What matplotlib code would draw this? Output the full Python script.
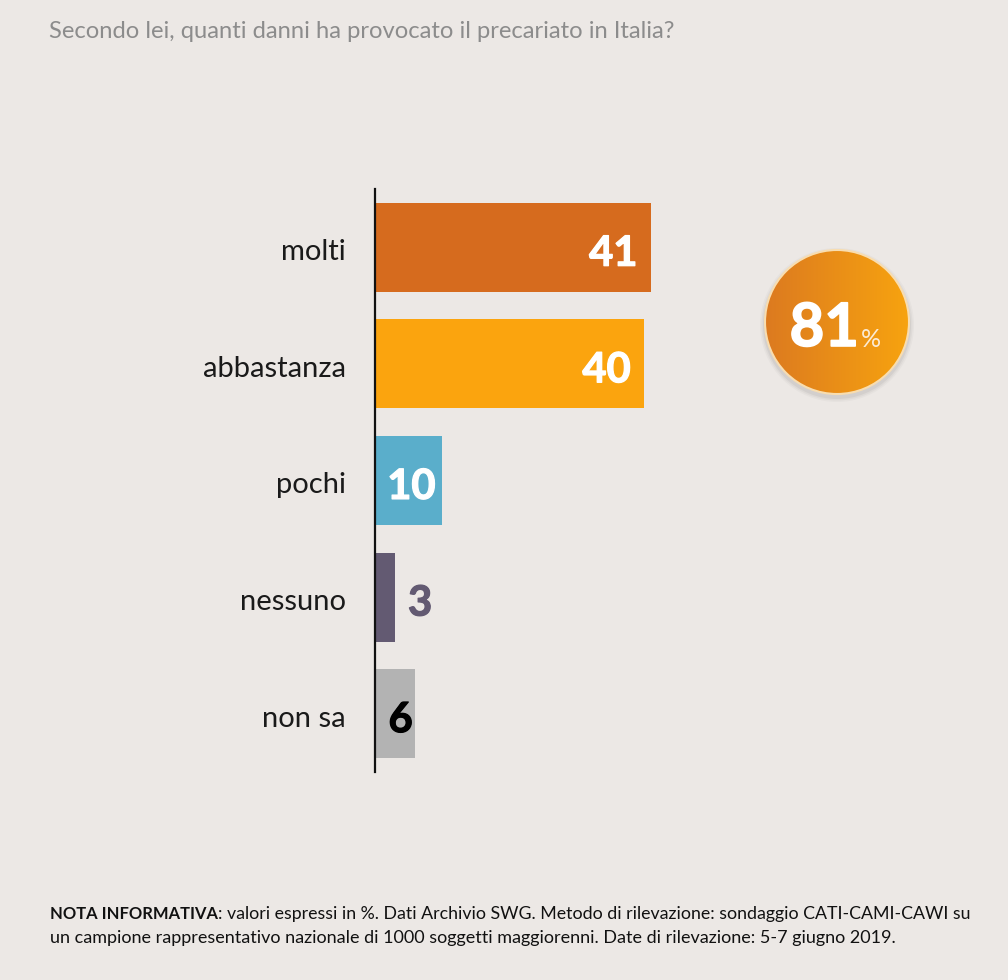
import numpy as np
from matplotlib import pyplot as plt
from matplotlib import patheffects
from matplotlib.colors import LinearSegmentedColormap
from matplotlib.patches import Circle
from matplotlib.transforms import ScaledTranslation

categories = ['molti', 'abbastanza', 'pochi', 'nessuno', 'non sa']
values = [41, 40, 10, 3, 6]
bar_colors = ['#D66B1E', '#FBA40E', '#5AAECB', '#635A72', '#B3B3B3']
value_colors = ['white', 'white', 'white', '#635A72', 'black']
title = 'Secondo lei, quanti danni ha provocato il precariato in Italia?'
note_bold = 'NOTA INFORMATIVA'
note_line1 = ': valori espressi in %. Dati Archivio SWG. Metodo di rilevazione: sondaggio CATI-CAMI-CAWI su'
note_line2 = 'un campione rappresentativo nazionale di 1000 soggetti maggiorenni. Date di rilevazione: 5-7 giugno 2019.'

W, H = 1008, 980
BG = '#ECE8E5'
plt.rcParams['font.family'] = ['Lato', 'DejaVu Sans']

fig = plt.figure(figsize=(W / 100, H / 100), dpi=100, facecolor=BG)

# page layer in pixel coordinates, for the texts and the badge
page = fig.add_axes([0, 0, 1, 1])
page.set_xlim(0, W)
page.set_ylim(H, 0)
page.axis('off')

# bars, 6.73 px per percentage point
ax_left, ax_top, ax_bottom = 375, 189, 772
ax_width = 6.73 * 60
ax = fig.add_axes([ax_left / W, 1 - ax_bottom / H, ax_width / W, (ax_bottom - ax_top) / H])
ax.patch.set_alpha(0)
y = np.arange(len(categories))
ax.barh(y, values, height=0.764, color=bar_colors)
ax.set_xlim(0, 60)
ax.set_ylim(4.5, -0.5)
ax.set_yticks(y, categories, fontsize=21, color='#1a1a1a')
ax.tick_params(axis='y', length=0, pad=21)
ax.set_xticks([])
for side in ['top', 'right', 'bottom']:
    ax.spines[side].set_visible(False)
ax.spines['left'].set_linewidth(1.6)
ax.spines['left'].set_color('#111111')

# labels sit a little lower than the bar centres
down = ScaledTranslation(0, -2.5 / 100, fig.dpi_scale_trans)
for label in ax.get_yticklabels():
    label.set_transform(label.get_transform() + down)

offsets = [-5.6, -5.6, -4.6, 3.7, -2.2]
for i, v in enumerate(values):
    txt = ax.text(v + offsets[i], i + 0.055, str(v), ha='center', va='center', fontsize=30,
                  fontweight='bold', color=value_colors[i])
    txt.set_path_effects([patheffects.withStroke(linewidth=0.9, foreground=value_colors[i])])

# badge with the sum of the first two answers
cx, cy, r = 837, 322, 72
for grow, alpha in [(5, 0.05), (3.5, 0.07), (2, 0.1)]:
    page.add_patch(Circle((cx, cy + 3), r + grow, color='#777777', alpha=alpha, lw=0))
grad = LinearSegmentedColormap.from_list('badge', ['#DC7A20', '#F7A30F'])
img = page.imshow(np.linspace(0, 1, 256).reshape(1, -1), cmap=grad, aspect='auto',
                  extent=(cx - r, cx + r, cy + r, cy - r), zorder=2)
rim = Circle((cx, cy), r, transform=page.transData, fc='none', ec='#F8DDB0', lw=1.5, zorder=3)
page.add_patch(rim)
img.set_clip_path(rim)
page.set_xlim(0, W)
page.set_ylim(H, 0)
total = page.text(859, 346, str(values[0] + values[1]), ha='right', va='baseline', fontsize=43,
                  fontweight='bold', color='white', zorder=4)
total.set_path_effects([patheffects.withStroke(linewidth=1.2, foreground='white')])
page.text(861, 347, '%', ha='left', va='baseline', fontsize=18, color='#FBEBD5', zorder=4)

page.text(49, 31, title, ha='left', va='center', fontsize=17.15, color='#8C8C8C')

note = page.text(50, 914, note_bold, ha='left', va='center', fontsize=11.9, fontweight='bold', color='#111111')
fig.canvas.draw()
bold_end = note.get_window_extent().x1
page.text(bold_end, 914, note_line1, ha='left', va='center', fontsize=12.78, color='#111111')
page.text(50, 938, note_line2, ha='left', va='center', fontsize=12.95, color='#111111')

fig.savefig('out.png', dpi=100, facecolor=BG)
